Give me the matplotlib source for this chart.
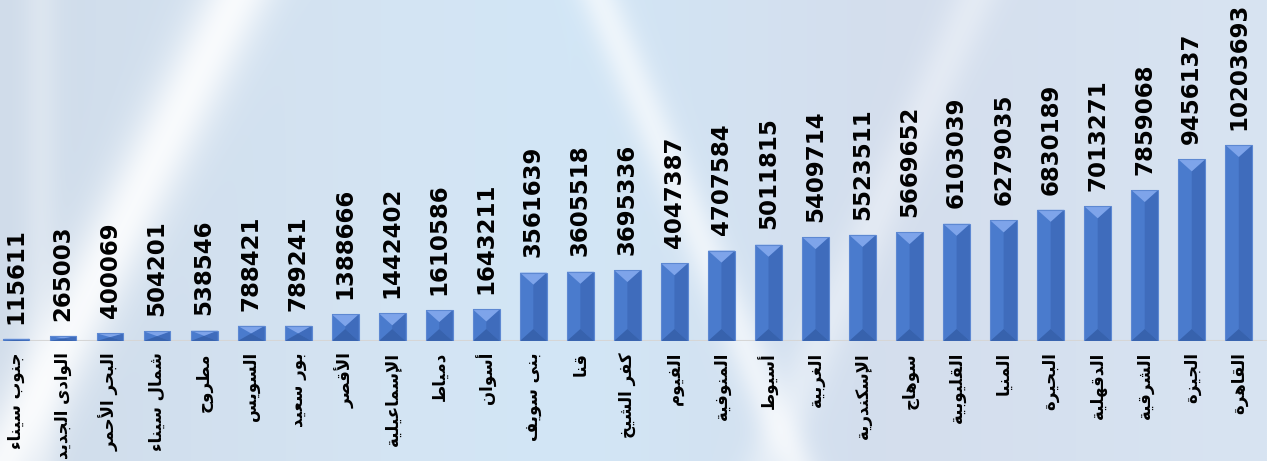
"""Population of Egyptian governorates, bevelled bar chart with Arabic labels."""

import matplotlib
matplotlib.use("Agg")
import matplotlib.pyplot as plt
import numpy as np
from matplotlib.patches import Polygon, Rectangle

governorates = [
    "جنوب سيناء", "الوادى الجديد", "البحر الأحمر", "شمال سيناء", "مطروح",
    "السويس", "بور سعيد", "الأقصر", "الإسماعيلية", "دمياط", "أسوان",
    "بنى سويف", "قنا", "كفر الشيخ", "الفيوم", "المنوفية", "أسيوط",
    "الغربية", "الإسكندرية", "سوهاج", "القليوبية", "المنيا", "البحيرة",
    "الدقهلية", "الشرقية", "الجيزة", "القاهرة",
]
population = [
    115611, 265003, 400069, 504201, 538546, 788421, 789241, 1388666,
    1442402, 1610586, 1643211, 3561639, 3605518, 3695336, 4047387,
    4707584, 5011815, 5409714, 5523511, 5669652, 6103039, 6279035,
    6830189, 7013271, 7859068, 9456137, 10203693,
]

# matplotlib has no Arabic shaping: map letters to presentation forms
# (isolated, final, initial, medial) and lay them out visually.
FORMS = {
    "ء": (0xFE80, None, None, None),
    "أ": (0xFE83, 0xFE84, None, None),
    "إ": (0xFE87, 0xFE88, None, None),
    "ا": (0xFE8D, 0xFE8E, None, None),
    "ب": (0xFE8F, 0xFE90, 0xFE91, 0xFE92),
    "ة": (0xFE93, 0xFE94, None, None),
    "ت": (0xFE95, 0xFE96, 0xFE97, 0xFE98),
    "ج": (0xFE9D, 0xFE9E, 0xFE9F, 0xFEA0),
    "ح": (0xFEA1, 0xFEA2, 0xFEA3, 0xFEA4),
    "خ": (0xFEA5, 0xFEA6, 0xFEA7, 0xFEA8),
    "د": (0xFEA9, 0xFEAA, None, None),
    "ر": (0xFEAD, 0xFEAE, None, None),
    "ز": (0xFEAF, 0xFEB0, None, None),
    "س": (0xFEB1, 0xFEB2, 0xFEB3, 0xFEB4),
    "ش": (0xFEB5, 0xFEB6, 0xFEB7, 0xFEB8),
    "ص": (0xFEB9, 0xFEBA, 0xFEBB, 0xFEBC),
    "ط": (0xFEC1, 0xFEC2, 0xFEC3, 0xFEC4),
    "ع": (0xFEC9, 0xFECA, 0xFECB, 0xFECC),
    "غ": (0xFECD, 0xFECE, 0xFECF, 0xFED0),
    "ف": (0xFED1, 0xFED2, 0xFED3, 0xFED4),
    "ق": (0xFED5, 0xFED6, 0xFED7, 0xFED8),
    "ك": (0xFED9, 0xFEDA, 0xFEDB, 0xFEDC),
    "ل": (0xFEDD, 0xFEDE, 0xFEDF, 0xFEE0),
    "م": (0xFEE1, 0xFEE2, 0xFEE3, 0xFEE4),
    "ن": (0xFEE5, 0xFEE6, 0xFEE7, 0xFEE8),
    "ه": (0xFEE9, 0xFEEA, 0xFEEB, 0xFEEC),
    "و": (0xFEED, 0xFEEE, None, None),
    "ى": (0xFEEF, 0xFEF0, None, None),
    "ي": (0xFEF1, 0xFEF2, 0xFEF3, 0xFEF4),
}
LAM_ALEF = {"أ": (0xFEF7, 0xFEF8), "إ": (0xFEF9, 0xFEFA), "ا": (0xFEFB, 0xFEFC)}


def shape_word(word: str) -> str:
    out = []
    prev_joins = False
    i = 0
    while i < len(word):
        ch = word[i]
        nxt = word[i + 1] if i + 1 < len(word) else None
        if ch == "ل" and nxt in LAM_ALEF:
            iso, fin = LAM_ALEF[nxt]
            out.append(chr(fin if prev_joins else iso))
            prev_joins = False
            i += 2
            continue
        iso, fin, ini, med = FORMS[ch]
        joins_next = ini is not None and nxt is not None and FORMS[nxt][1] is not None
        if prev_joins and joins_next:
            form = med
        elif prev_joins:
            form = fin
        elif joins_next:
            form = ini
        else:
            form = iso
        out.append(chr(form))
        prev_joins = joins_next
        i += 1
    return "".join(out)


def visual(text: str) -> str:
    return " ".join(shape_word(w) for w in text.split())[::-1]


W, H, DPI = 12.67, 4.61, 100
fig = plt.figure(figsize=(W, H), dpi=DPI)

# soft blue-grey backdrop with a few pale streaks
nx, ny = 634, 231
xx, yy = np.meshgrid(np.linspace(0, 1267, nx), np.linspace(0, 461, ny))
stops = np.array([0, 0.3, 0.45, 0.7, 1.0]) * 1267
cols = np.array([[208, 220, 234], [212, 228, 243], [210, 230, 246],
                 [212, 222, 237], [216, 228, 242]]) / 255
bg = np.stack([np.interp(xx, stops, cols[:, k]) for k in range(3)], axis=-1)
for x_top, slope, width, strength in [(235, -0.5, 38, 0.85), (600, 0.42, 22, 0.6),
                                      (975, -0.45, 25, 0.35), (40, 0.0, 18, 0.25)]:
    d = xx - (x_top + slope * yy)
    a = strength * np.exp(-(d / width) ** 2)
    bg = bg * (1 - a[..., None]) + a[..., None]
bax = fig.add_axes([0, 0, 1, 1], zorder=0)
bax.imshow(bg, aspect="auto", extent=(0, 1, 0, 1), interpolation="bilinear")
bax.set_axis_off()

base_px, top_px = 120, 461
ax = fig.add_axes([0, base_px / (H * DPI), 1, (top_px - base_px) / (H * DPI)], zorder=1)
ax.patch.set_alpha(0)
x = np.arange(len(governorates))
ax.set_xlim(-0.34, 26.6)
ax.set_ylim(0, 17.75e6)

bar_w = 0.57
y_per_px = 17.75e6 / (top_px - base_px)
bevel = 12 * y_per_px
face, right, light, dark = "#4a7bcd", "#3f6cbc", "#7ea4ea", "#3762ad"
for xi, h in zip(x, population):
    x0, x1, c = xi - bar_w / 2, xi + bar_w / 2, xi
    d = min(bevel, h / 2)
    ax.add_patch(Rectangle((x0, 0), bar_w, h, facecolor=face, edgecolor="none"))
    ax.add_patch(Polygon([(c, d), (x1, 0), (x1, h), (c, h - d)], closed=True,
                         facecolor=right, edgecolor="none"))
    ax.add_patch(Polygon([(x0, h), (x1, h), (c, h - d)], closed=True,
                         facecolor=light, edgecolor="none"))
    ax.add_patch(Polygon([(x0, 0), (x1, 0), (c, d)], closed=True,
                         facecolor=dark, edgecolor="none"))
    ax.add_patch(Rectangle((x0, 0), bar_w, h, facecolor="none",
                           edgecolor="#5d88d2", lw=0.8))
    ax.annotate(f"{h}", (xi, h), xytext=(0, 11), textcoords="offset points",
                rotation=90, ha="center", va="bottom", fontsize=16.5,
                fontweight="bold", color="black", family="DejaVu Sans")

ax.axhline(0, color="#d6d6d6", lw=1.5, zorder=0)
ax.set_xticks(x, [visual(g) for g in governorates], rotation=90,
              fontsize=12, fontweight="bold", family="DejaVu Sans")
ax.tick_params(axis="x", length=0, pad=8)
ax.set_yticks([])
for s in ax.spines.values():
    s.set_visible(False)

fig.savefig("out.png", dpi=DPI)
